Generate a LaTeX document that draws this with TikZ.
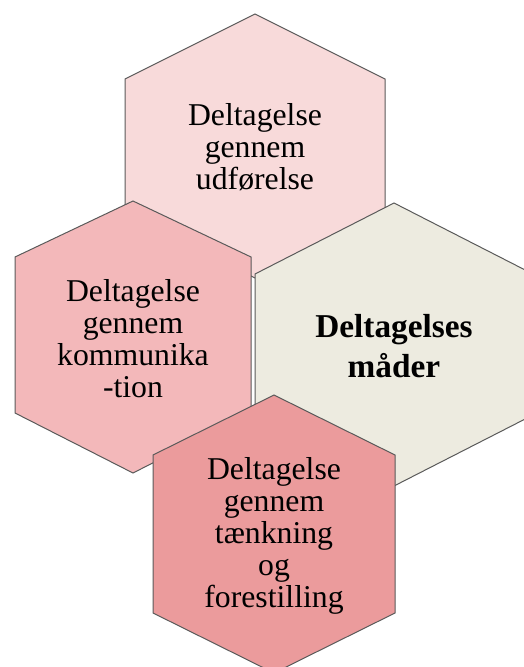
\documentclass[tikz,border=0pt]{standalone}
\usepackage{fontspec}
\setmainfont{Liberation Serif}
\definecolor{hexTop}{HTML}{F8DADA}
\definecolor{hexLeft}{HTML}{F3B8BA}
\definecolor{hexRight}{HTML}{EDEBE0}
\definecolor{hexBottom}{HTML}{EB9B9C}
\definecolor{hexLine}{HTML}{5A5A5A}
\tikzset{
hex/.style={draw=hexLine, line width=0.75pt, line join=miter},
hextext/.style={inner sep=0.75pt, align=center, font=\fontsize{23.8}{24}\selectfont}}
\tikzset{every picture/.style={line width=0.75pt}}

\begin{document}
\begin{tikzpicture}[x=0.75pt,y=0.75pt,yscale=-1,xscale=1]
\useasboundingbox (0,0) rectangle (524,667);
\clip (0,0) rectangle (524,667);

%Shape: Hexagon [id:top]
\draw [hex, fill=hexTop] (255,14) -- (385,79) -- (385,213) -- (255,278) -- (125,213) -- (125,79) -- cycle ;
%Shape: Hexagon [id:left]
\draw [hex, fill=hexLeft] (133,201) -- (251,257) -- (251,413) -- (133,473) -- (15,413) -- (15,257) -- cycle ;
%Shape: Hexagon [id:right]
\draw [hex, fill=hexRight] (394,203) -- (533,274) -- (533,415) -- (394,486) -- (255,415) -- (255,274) -- cycle ;
%Shape: Hexagon [id:bottom]
\draw [hex, fill=hexBottom] (274,395) -- (395,455) -- (395,613) -- (274,673) -- (153,613) -- (153,455) -- cycle ;

% Text Node
\draw (255,147) node [hextext] (udfoerelse) {Deltagelse\\gennem\\udførelse};
% Text Node
\draw (133,339) node [hextext] (kommunikation) {Deltagelse\\gennem\\kommunika\\-tion};
% Text Node
\draw (394,346) node [hextext, font=\fontsize{25}{30}\selectfont\bfseries] (maader) {Deltagelses\\måder};
% Text Node
\draw (274,536) node [hextext] (taenkning) {Deltagelse\\gennem\\tænkning\\og\\forestilling};

\end{tikzpicture}
\end{document}
